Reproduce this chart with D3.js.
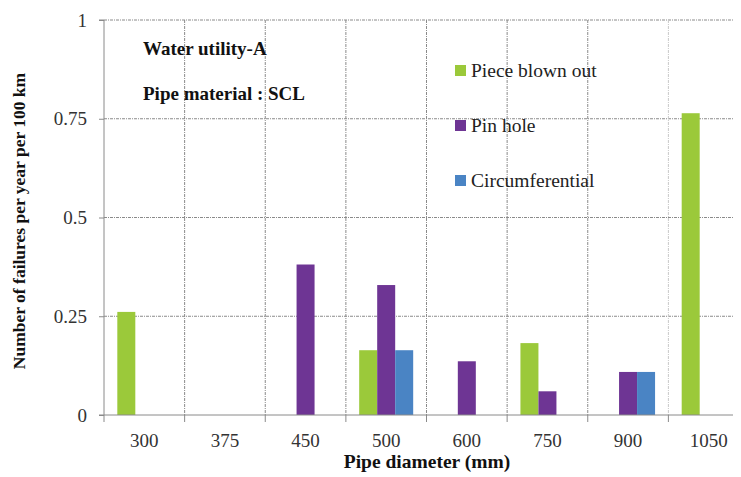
<!DOCTYPE html>
<html><head><meta charset="utf-8">
<script src="https://cdn.jsdelivr.net/npm/d3@7"></script>
</head><body><svg id="c" width="741" height="477"></svg>
<script>
const categories = ["300","375","450","500","600","750","900","1050"];
const seriesNames = ["Piece blown out","Pin hole","Circumferential"];
const pieceBlownOut = [0.261,0,0,0.164,0,0.182,0,0.764];
const pinHole = [0,0,0.381,0.329,0.136,0.06,0.109,0];
const circumferential = [0,0,0,0.164,0,0,0.109,0];
const yTicks = [0,0.25,0.5,0.75,1];
const colors = ["#9BC93A","#6E3594","#4A84C4"];

const fontParts = ["Liberation","Serif"];
const FONT = `"${fontParts.join(" ")}"`;
const seriesValues = [pieceBlownOut, pinHole, circumferential];
const svgSel = d3.select("#c");
const box = svgSel.node().getBoundingClientRect();
const svg = svgSel.append("g").attr("transform",`translate(${-box.left},${-box.top})`);
const L=104, R=749, T=20, B=415;
const x = d3.scaleBand().domain(categories).range([L,R]).padding(0);
const bw = x.bandwidth();
const x1 = d3.scaleBand().domain(seriesNames).range([bw/2-27, bw/2+27]).padding(0);
const y = d3.scaleLinear().domain([0,1]).range([B,T]);

// horizontal grid
svg.append("g").selectAll("line").data(yTicks.filter(d=>d>0)).join("line")
  .attr("x1",L).attr("x2",R).attr("y1",d=>y(d)).attr("y2",d=>y(d))
  .attr("stroke","#8a8a8a").attr("stroke-width",1).attr("stroke-dasharray","3,1,1,1");
// vertical grid at category boundaries
const bounds = categories.slice(1).map(c=>x(c));
svg.append("g").selectAll("line").data(bounds).join("line")
  .attr("x1",d=>d).attr("x2",d=>d).attr("y1",T).attr("y2",B)
  .attr("stroke",(d,i)=>i===bounds.length-1?"#c8c8c8":"#8a8a8a").attr("stroke-width",1).attr("stroke-dasharray","3,1,1,1");

// bars
seriesNames.forEach((s,si)=>{
  svg.append("g").selectAll("rect").data(categories.map((c,i)=>({c,v:seriesValues[si][i]})).filter(d=>d.v>0)).join("rect")
    .attr("x",d=>x(d.c)+x1(s)).attr("width",x1.bandwidth())
    .attr("y",d=>y(d.v)).attr("height",d=>B-y(d.v))
    .attr("fill",colors[si]);
});

// axes
const yAxis = d3.axisLeft(y).tickValues(yTicks).tickSize(5).tickPadding(12).tickFormat(d=>String(d));
const gy = svg.append("g").attr("transform",`translate(${L},0)`).call(yAxis);
gy.attr("font-size",19);
gy.select(".domain").attr("stroke","#8a8a8a").attr("d",`M-5,${T}H0V${B}H-5`);
gy.selectAll(".tick line").attr("stroke","#8a8a8a");
gy.selectAll("text").attr("font-size",19).attr("fill","#333");

svg.append("line").attr("x1",L).attr("x2",R).attr("y1",B).attr("y2",B).attr("stroke","#8a8a8a");
svg.append("g").selectAll("line").data([L,...bounds]).join("line")
  .attr("x1",d=>d).attr("x2",d=>d).attr("y1",B).attr("y2",B+7).attr("stroke","#8a8a8a");
svg.append("g").selectAll("text").data(categories).join("text")
  .attr("x",d=>x(d)+bw/2).attr("y",447).attr("text-anchor","middle")
  .attr("font-size",19).attr("fill","#333").text(d=>d);

// titles
svg.append("text").attr("x",427).attr("y",468).attr("text-anchor","middle")
  .attr("font-size",19.5).attr("font-weight","bold").attr("fill","#111").text("Pipe diameter (mm)");
svg.append("text").attr("transform","translate(25,221) rotate(-90)").attr("text-anchor","middle")
  .attr("font-size",17.5).attr("font-weight","bold").attr("fill","#111").text("Number of failures per year per 100 km");

svg.append("text").attr("x",143).attr("y",55).attr("font-size",19).attr("font-weight","bold").attr("fill","#111").text("Water utility-A");
svg.append("text").attr("x",143).attr("y",100).attr("font-size",19).attr("font-weight","bold").attr("fill","#111").text("Pipe material : SCL");

// legend
const lg = svg.append("g").selectAll("g").data(seriesNames).join("g")
  .attr("transform",(d,i)=>`translate(455,${70.5+i*55})`);
lg.append("rect").attr("x",0).attr("y",-5.5).attr("width",11).attr("height",11).attr("fill",(d,i)=>colors[i]);
lg.append("text").attr("x",16).attr("y",6.5).attr("font-size",19.5).attr("fill","#222").text(d=>d);

// apply the typeface to every text element
svg.selectAll("text").each(function(){ this.style.fontFamily = FONT; });
</script></body></html>
